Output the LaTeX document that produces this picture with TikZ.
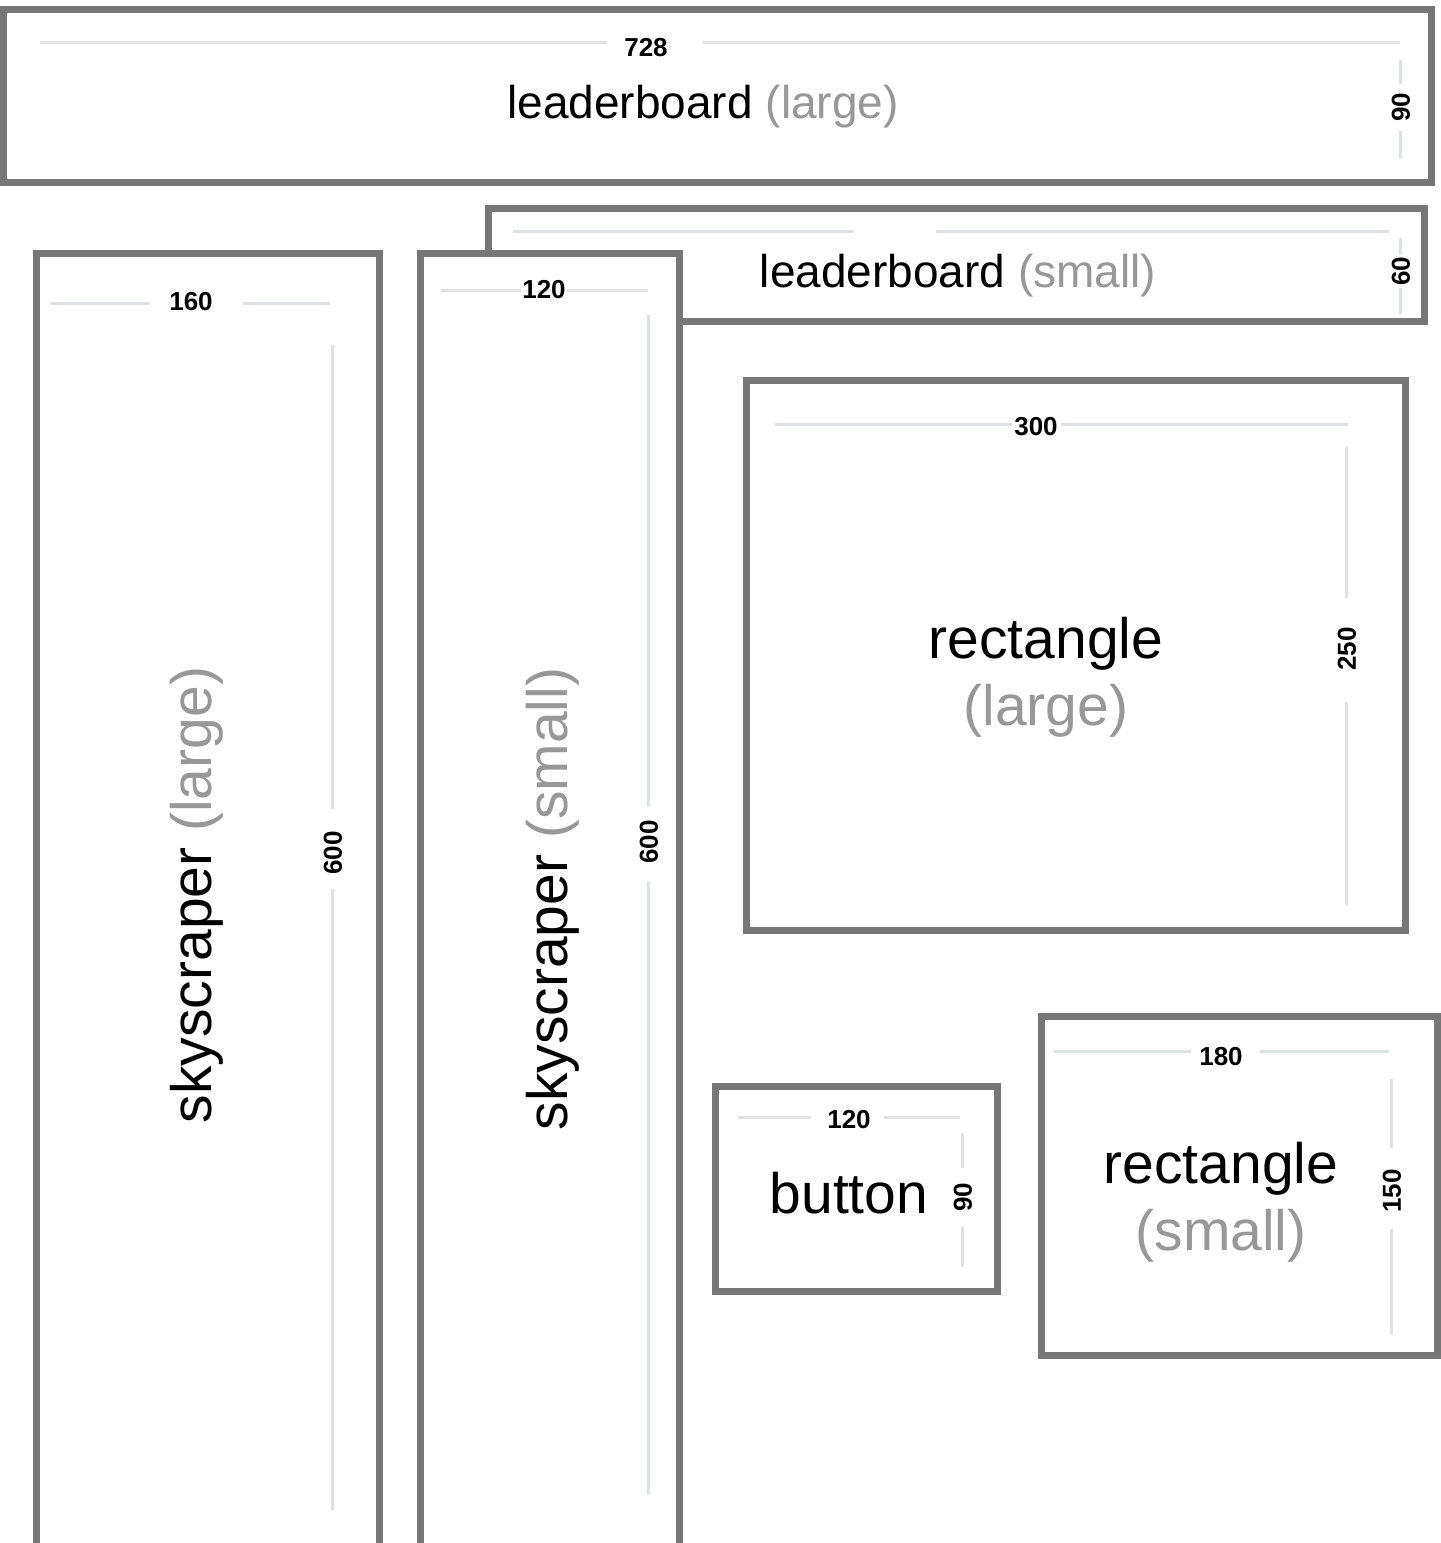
\documentclass[tikz,border=0pt]{standalone}
\usepackage{fontspec}
\setmainfont{Liberation Sans}
\definecolor{boxgrey}{RGB}{119,119,119}
\definecolor{dimgrey}{RGB}{222,226,226}
\definecolor{subgrey}{RGB}{152,152,152}
\begin{document}
\begin{tikzpicture}[x=1pt,y=-1pt,
  adbox/.style={draw=boxgrey,line width=7pt,fill=white},
  dimline/.style={draw=dimgrey,line width=3pt},
  num/.style={font=\fontsize{26}{30}\selectfont\bfseries,inner sep=0pt},
  bigtxt/.style={font=\fontsize{57}{66}\selectfont,inner sep=0pt},
  midtxt/.style={font=\fontsize{46}{54}\selectfont,inner sep=0pt}]
\useasboundingbox (0,0) rectangle (1441,1543);
\fill[white] (0,0) rectangle (1441,1543);
\clip (0,0) rectangle (1441,1543);

% ---------- leaderboard (large) ----------
\draw[adbox] (3,9.5) rectangle (1431.5,182.5);
\node[num] (n728) at (646,47.5) {728};
\draw[dimline] (40,42) -- (607,42);
\draw[dimline] (703,42) -- (1400,42);
\node[num,rotate=90] (n90a) at (1401,107) {90};
\draw[dimline] (1400,60) -- (1400,84);
\draw[dimline] (1400,131) -- (1400,159);
\node[midtxt,anchor=base] (tll) at (703,118) {leaderboard \textcolor{subgrey}{(large)}};

% ---------- leaderboard (small) ----------
\draw[adbox] (488.5,208.5) rectangle (1424,321.5);
\draw[dimline] (513,231) -- (854,231);
\draw[dimline] (936,231) -- (1389,231);
\node[num,rotate=90] (n60) at (1401,271) {60};
\draw[dimline] (1400,238) -- (1400,255);
\draw[dimline] (1400,288) -- (1400,314);
\node[midtxt,anchor=base] (tls) at (958,287) {leaderboard \textcolor{subgrey}{(small)}};

% ---------- skyscraper (large) ----------
\draw[adbox] (36.5,253) rectangle (379.5,1570);
\node[num] (n160) at (191,302) {160};
\draw[dimline] (50,303) -- (150,303);
\draw[dimline] (243,303) -- (330,303);
\node[num,rotate=90] (n600a) at (333,853) {600};
\draw[dimline] (332,345) -- (332,809);
\draw[dimline] (332,889) -- (332,1510);
\node[bigtxt,rotate=90,anchor=base] (tsl) at (211,895) {skyscraper \textcolor{subgrey}{(large)}};

% ---------- skyscraper (small) ----------
\draw[adbox] (420.5,253) rectangle (679.5,1570);
\node[num] (n120a) at (544,290) {120};
\draw[dimline] (441,290) -- (521,290);
\draw[dimline] (567,290) -- (648,290);
\node[num,rotate=90] (n600b) at (649,842) {600};
\draw[dimline] (648,315) -- (648,807);
\draw[dimline] (648,881) -- (648,1495);
\node[bigtxt,rotate=90,anchor=base] (tss) at (567,899) {skyscraper \textcolor{subgrey}{(small)}};

% ---------- rectangle (large) ----------
\draw[adbox] (746,380.5) rectangle (1405.5,930);
\node[num] (n300) at (1036,427) {300};
\draw[dimline] (775,424) -- (1012,424);
\draw[dimline] (1061,424) -- (1348,424);
\node[num,rotate=90] (n250) at (1347,649) {250};
\draw[dimline] (1346,447) -- (1346,598);
\draw[dimline] (1346,702) -- (1346,905);
\node[bigtxt,anchor=base] (trl1) at (1046,658) {rectangle};
\node[bigtxt,anchor=base,text=subgrey] (trl2) at (1046,725) {(large)};

% ---------- button ----------
\draw[adbox] (715.5,1086.5) rectangle (997,1291.5);
\node[num] (n120b) at (849,1120) {120};
\draw[dimline] (738,1117) -- (811,1117);
\draw[dimline] (884,1117) -- (960,1117);
\node[num,rotate=90] (n90b) at (963,1197) {90};
\draw[dimline] (962,1133) -- (962,1168);
\draw[dimline] (962,1227) -- (962,1267);
\node[bigtxt,anchor=base] (tbt) at (849,1213) {button};

% ---------- rectangle (small) ----------
\draw[adbox] (1041,1016.5) rectangle (1437.5,1355.5);
\node[num] (n180) at (1221,1057) {180};
\draw[dimline] (1054,1051) -- (1191,1051);
\draw[dimline] (1260,1051) -- (1389,1051);
\node[num,rotate=90] (n150) at (1392,1191) {150};
\draw[dimline] (1391,1079) -- (1391,1148);
\draw[dimline] (1391,1229) -- (1391,1335);
\node[bigtxt,anchor=base] (trs1) at (1221,1183) {rectangle};
\node[bigtxt,anchor=base,text=subgrey] (trs2) at (1221,1250) {(small)};
\end{tikzpicture}
\end{document}
